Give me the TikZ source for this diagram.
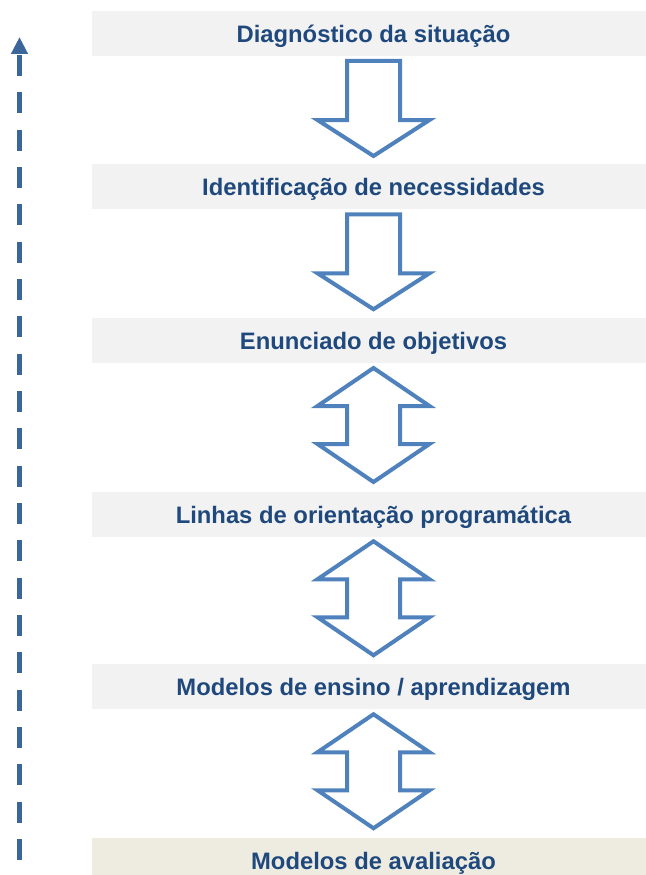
\documentclass[tikz,border=0pt]{standalone}
\usepackage{fontspec}
\setmainfont{Liberation Sans}
\usetikzlibrary{calc,arrows.meta}
\definecolor{boxgray}{HTML}{F2F2F2}
\definecolor{boxtan}{HTML}{EEECE1}
\definecolor{textblue}{HTML}{1F497D}
\definecolor{arrowblue}{HTML}{4F81BD}
\definecolor{loopblue}{HTML}{3A6699}
\tikzset{
  stage/.style={fill=boxgray, minimum width=563pt, minimum height=45pt, inner sep=0pt,
    text height=18.4pt, text depth=0pt, text=textblue,
    font=\fontsize{23.8}{28}\selectfont\bfseries},
  blockarrow/.style={draw=arrowblue, line width=4pt, fill=white, miter limit=10},
  feedback/.style={draw=loopblue, line width=5.5pt, dash pattern=on 21pt off 16.33pt,
    -{Triangle[width=16pt,length=17pt]}},
  pics/stepdown/.style={code={
    \draw[blockarrow] (-26.5,-49) -- (26.5,-49) -- (26.5,10) -- (56,10) -- (0,46)
      -- (-56,10) -- (-26.5,10) -- cycle;}},
  pics/steptwo/.style={code={
    \draw[blockarrow] (0,-59) -- (56,-21) -- (26.5,-21) -- (26.5,17) -- (56,17) -- (0,55)
      -- (-56,17) -- (-26.5,17) -- (-26.5,-21) -- (-56,-21) -- cycle;}}
}
\begin{document}
\begin{tikzpicture}[x=1pt,y=-1pt]
  \useasboundingbox (0,0) rectangle (645,875);
  \node[stage] (diag) at (373.5,33.5) {Diagnóstico da situação};
  \node[stage] (ident) at (373.5,186.5) {Identificação de necessidades};
  \node[stage] (obj) at (373.5,340) {Enunciado de objetivos};
  \node[stage] (linhas) at (373.5,514) {Linhas de orientação programática};
  \node[stage] (modens) at (373.5,686.5) {Modelos de ensino / aprendizagem};
  \node[stage, fill=boxtan] (modav) at (373.5,860) {Modelos de avaliação};
  \pic (a1) at ($(diag.south)!0.5!(ident.north)$) {stepdown};
  \pic (a2) at ($(ident.south)!0.5!(obj.north)$) {stepdown};
  \pic (a3) at ($(obj.south)!0.5!(linhas.north)$) {steptwo};
  \pic (a4) at ($(linhas.south)!0.5!(modens.north)$) {steptwo};
  \pic (a5) at ($(modens.south)!0.5!(modav.north)$) {steptwo};
  \coordinate (fbstart) at (19.5,860);
  \coordinate (fbend) at (19.5,37);
  \draw[feedback] (fbstart) -- (fbend);
\end{tikzpicture}
\end{document}
